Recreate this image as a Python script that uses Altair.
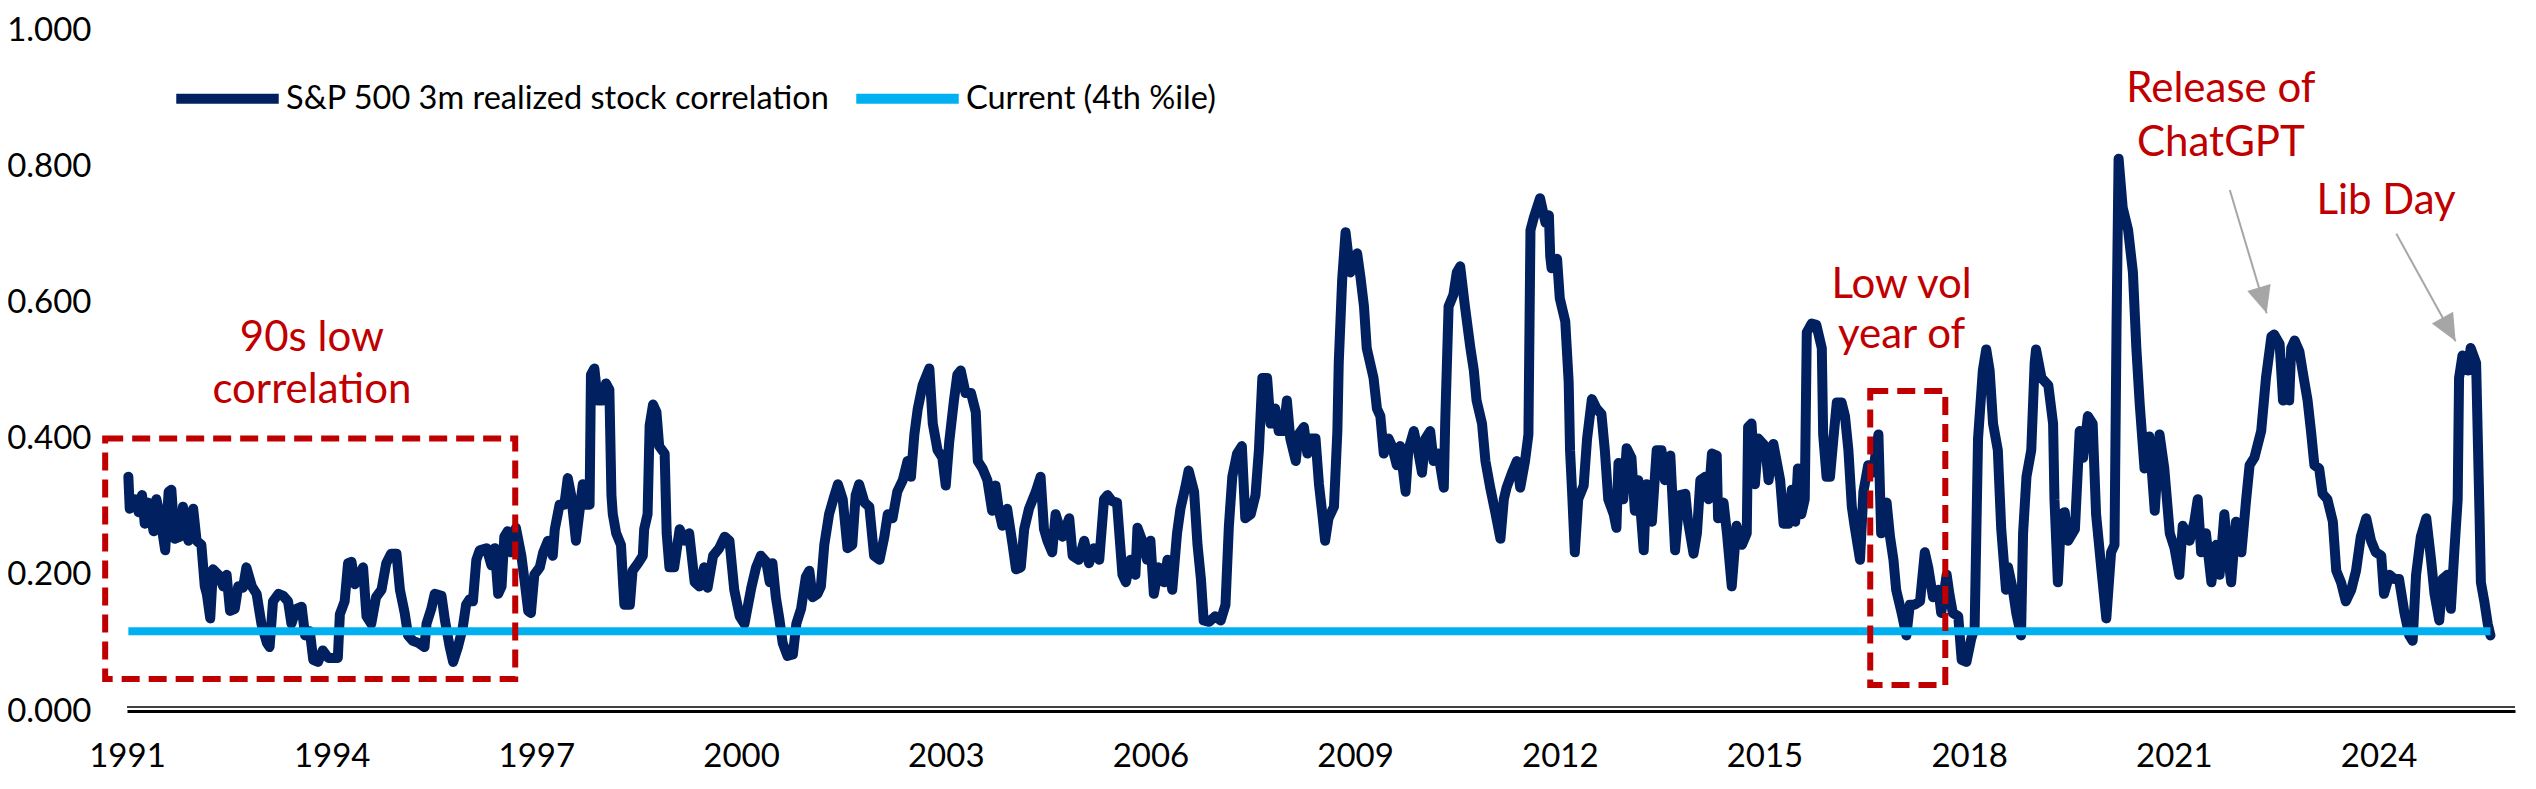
import altair as alt
import pandas as pd

# ---------------- data ----------------
corr_years = [
    1991.02, 1991.04, 1991.12, 1991.17, 1991.22, 1991.26, 1991.31, 1991.39, 1991.43, 1991.48,
    1991.56, 1991.61, 1991.65, 1991.70, 1991.78, 1991.82, 1991.90, 1991.97, 1992.02, 1992.09,
    1992.14, 1992.17, 1992.22, 1992.26, 1992.34, 1992.41, 1992.46, 1992.51, 1992.58, 1992.63,
    1992.70, 1992.75, 1992.83, 1992.90, 1992.97, 1993.05, 1993.09, 1993.14, 1993.22, 1993.29,
    1993.36, 1993.41, 1993.48, 1993.56, 1993.61, 1993.68, 1993.73, 1993.80, 1993.87, 1993.95,
    1994.02, 1994.09, 1994.12, 1994.19, 1994.24, 1994.29, 1994.34, 1994.41, 1994.46, 1994.51,
    1994.58, 1994.65, 1994.73, 1994.80, 1994.87, 1994.95, 1995.00, 1995.07, 1995.12, 1995.19,
    1995.27, 1995.36, 1995.39, 1995.46, 1995.51, 1995.61, 1995.66, 1995.73, 1995.78, 1995.85,
    1995.92, 1995.97, 1996.02, 1996.07, 1996.12, 1996.17, 1996.27, 1996.34, 1996.39, 1996.44,
    1996.49, 1996.53, 1996.58, 1996.63, 1996.70, 1996.78, 1996.83, 1996.88, 1996.92, 1996.97,
    1997.05, 1997.10, 1997.17, 1997.24, 1997.27, 1997.34, 1997.41, 1997.46, 1997.51, 1997.58,
    1997.68, 1997.73, 1997.78, 1997.80, 1997.85, 1997.90, 1997.97, 1998.02, 1998.07, 1998.10,
    1998.12, 1998.17, 1998.24, 1998.27, 1998.29, 1998.37, 1998.41, 1998.49, 1998.56, 1998.58,
    1998.63, 1998.66, 1998.71, 1998.76, 1998.80, 1998.88, 1998.91, 1998.95, 1999.02, 1999.10,
    1999.17, 1999.24, 1999.32, 1999.39, 1999.46, 1999.51, 1999.59, 1999.68, 1999.76, 1999.83,
    1999.90, 1999.98, 2000.05, 2000.15, 2000.22, 2000.29, 2000.37, 2000.42, 2000.46, 2000.51,
    2000.56, 2000.61, 2000.68, 2000.76, 2000.81, 2000.88, 2000.95, 2001.00, 2001.05, 2001.12,
    2001.17, 2001.22, 2001.29, 2001.37, 2001.42, 2001.49, 2001.56, 2001.63, 2001.68, 2001.73,
    2001.81, 2001.88, 2001.95, 2002.03, 2002.10, 2002.15, 2002.22, 2002.29, 2002.37, 2002.44,
    2002.49, 2002.54, 2002.59, 2002.66, 2002.76, 2002.81, 2002.88, 2002.95, 2003.00, 2003.05,
    2003.12, 2003.17, 2003.22, 2003.29, 2003.37, 2003.44, 2003.47, 2003.54, 2003.61, 2003.68,
    2003.73, 2003.78, 2003.83, 2003.90, 2003.98, 2004.03, 2004.10, 2004.15, 2004.22, 2004.32,
    2004.39, 2004.44, 2004.49, 2004.56, 2004.61, 2004.71, 2004.81, 2004.86, 2004.95, 2005.03,
    2005.10, 2005.17, 2005.25, 2005.32, 2005.37, 2005.44, 2005.51, 2005.59, 2005.64, 2005.71,
    2005.78, 2005.81, 2005.88, 2005.95, 2006.00, 2006.05, 2006.12, 2006.20, 2006.25, 2006.32,
    2006.39, 2006.44, 2006.51, 2006.56, 2006.64, 2006.69, 2006.74, 2006.78, 2006.86, 2006.95,
    2007.03, 2007.10, 2007.15, 2007.20, 2007.27, 2007.34, 2007.39, 2007.47, 2007.54, 2007.59,
    2007.64, 2007.71, 2007.76, 2007.83, 2007.88, 2007.95, 2008.00, 2008.05, 2008.13, 2008.17,
    2008.25, 2008.30, 2008.35, 2008.42, 2008.47, 2008.52, 2008.56, 2008.61, 2008.69, 2008.74,
    2008.76, 2008.81, 2008.86, 2008.93, 2008.98, 2009.03, 2009.08, 2009.13, 2009.17, 2009.22,
    2009.27, 2009.32, 2009.37, 2009.42, 2009.49, 2009.54, 2009.61, 2009.66, 2009.74, 2009.78,
    2009.86, 2009.93, 2009.98, 2010.03, 2010.10, 2010.15, 2010.22, 2010.30, 2010.32, 2010.37,
    2010.44, 2010.49, 2010.54, 2010.61, 2010.69, 2010.74, 2010.78, 2010.86, 2010.91, 2010.98,
    2011.05, 2011.13, 2011.18, 2011.22, 2011.30, 2011.37, 2011.42, 2011.49, 2011.54, 2011.57,
    2011.62, 2011.71, 2011.79, 2011.84, 2011.86, 2011.88, 2011.96, 2012.00, 2012.08, 2012.13,
    2012.15, 2012.18, 2012.22, 2012.27, 2012.35, 2012.40, 2012.47, 2012.54, 2012.61, 2012.66,
    2012.71, 2012.79, 2012.83, 2012.86, 2012.93, 2012.98, 2013.05, 2013.10, 2013.15, 2013.23,
    2013.27, 2013.35, 2013.42, 2013.49, 2013.54, 2013.62, 2013.69, 2013.76, 2013.84, 2013.88,
    2013.96, 2014.01, 2014.06, 2014.13, 2014.18, 2014.23, 2014.30, 2014.32, 2014.40, 2014.45,
    2014.52, 2014.59, 2014.67, 2014.74, 2014.76, 2014.81, 2014.86, 2014.91, 2015.01, 2015.06,
    2015.13, 2015.23, 2015.28, 2015.35, 2015.40, 2015.45, 2015.49, 2015.54, 2015.59, 2015.62,
    2015.69, 2015.76, 2015.84, 2015.86, 2015.91, 2015.96, 2016.01, 2016.06, 2016.13, 2016.18,
    2016.23, 2016.28, 2016.32, 2016.40, 2016.45, 2016.52, 2016.59, 2016.67, 2016.71, 2016.79,
    2016.84, 2016.89, 2016.93, 2017.01, 2017.08, 2017.13, 2017.20, 2017.28, 2017.35, 2017.40,
    2017.47, 2017.55, 2017.59, 2017.67, 2017.71, 2017.76, 2017.84, 2017.89, 2017.96, 2018.03,
    2018.08, 2018.13, 2018.20, 2018.25, 2018.30, 2018.35, 2018.42, 2018.47, 2018.54, 2018.57,
    2018.64, 2018.69, 2018.76, 2018.79, 2018.84, 2018.91, 2018.96, 2018.98, 2019.06, 2019.16,
    2019.23, 2019.25, 2019.30, 2019.35, 2019.40, 2019.45, 2019.55, 2019.62, 2019.67, 2019.74,
    2019.81, 2019.86, 2019.94, 2020.01, 2020.08, 2020.13, 2020.16, 2020.19, 2020.25, 2020.33,
    2020.40, 2020.45, 2020.50, 2020.57, 2020.64, 2020.72, 2020.79, 2020.86, 2020.94, 2021.01,
    2021.08, 2021.13, 2021.23, 2021.30, 2021.35, 2021.40, 2021.47, 2021.55, 2021.62, 2021.67,
    2021.74, 2021.79, 2021.84, 2021.91, 2021.99, 2022.06, 2022.11, 2022.18, 2022.28, 2022.35,
    2022.43, 2022.47, 2022.55, 2022.60, 2022.65, 2022.69, 2022.72, 2022.77, 2022.84, 2022.89,
    2022.96, 2023.01, 2023.06, 2023.13, 2023.18, 2023.25, 2023.33, 2023.38, 2023.45, 2023.52,
    2023.60, 2023.67, 2023.74, 2023.82, 2023.89, 2023.96, 2024.04, 2024.08, 2024.16, 2024.23,
    2024.30, 2024.38, 2024.45, 2024.50, 2024.55, 2024.62, 2024.70, 2024.77, 2024.82, 2024.89,
    2024.94, 2025.01, 2025.06, 2025.11, 2025.16, 2025.18, 2025.23, 2025.31, 2025.35, 2025.43,
    2025.48, 2025.50, 2025.55, 2025.60, 2025.64,
]
corr_values = [
    0.344, 0.297, 0.311, 0.292, 0.317, 0.275, 0.306, 0.264, 0.311, 0.289,
    0.236, 0.322, 0.325, 0.253, 0.256, 0.300, 0.250, 0.297, 0.250, 0.244,
    0.183, 0.172, 0.136, 0.208, 0.200, 0.183, 0.200, 0.147, 0.150, 0.183,
    0.181, 0.211, 0.183, 0.172, 0.128, 0.100, 0.094, 0.161, 0.172, 0.169,
    0.161, 0.128, 0.150, 0.153, 0.111, 0.117, 0.075, 0.072, 0.089, 0.078,
    0.078, 0.078, 0.142, 0.161, 0.217, 0.219, 0.186, 0.200, 0.211, 0.139,
    0.128, 0.167, 0.178, 0.217, 0.231, 0.231, 0.178, 0.144, 0.111, 0.103,
    0.100, 0.094, 0.128, 0.150, 0.172, 0.169, 0.133, 0.094, 0.072, 0.094,
    0.122, 0.156, 0.164, 0.161, 0.222, 0.236, 0.239, 0.214, 0.239, 0.172,
    0.183, 0.256, 0.264, 0.233, 0.269, 0.228, 0.189, 0.147, 0.144, 0.200,
    0.211, 0.233, 0.250, 0.228, 0.267, 0.303, 0.303, 0.342, 0.317, 0.250,
    0.333, 0.303, 0.303, 0.494, 0.503, 0.456, 0.456, 0.481, 0.472, 0.317,
    0.289, 0.261, 0.244, 0.189, 0.156, 0.156, 0.206, 0.217, 0.228, 0.267,
    0.289, 0.419, 0.450, 0.439, 0.389, 0.378, 0.261, 0.211, 0.211, 0.267,
    0.250, 0.261, 0.189, 0.183, 0.211, 0.181, 0.228, 0.239, 0.256, 0.250,
    0.178, 0.139, 0.128, 0.181, 0.211, 0.228, 0.219, 0.189, 0.217, 0.167,
    0.136, 0.100, 0.081, 0.083, 0.128, 0.150, 0.197, 0.206, 0.167, 0.172,
    0.183, 0.244, 0.289, 0.317, 0.333, 0.311, 0.239, 0.244, 0.317, 0.333,
    0.306, 0.300, 0.228, 0.222, 0.256, 0.289, 0.283, 0.322, 0.339, 0.367,
    0.344, 0.406, 0.444, 0.478, 0.503, 0.422, 0.383, 0.372, 0.331, 0.394,
    0.456, 0.494, 0.500, 0.467, 0.467, 0.439, 0.367, 0.356, 0.339, 0.294,
    0.331, 0.294, 0.272, 0.297, 0.244, 0.208, 0.211, 0.267, 0.297, 0.322,
    0.344, 0.267, 0.250, 0.233, 0.289, 0.256, 0.283, 0.228, 0.222, 0.250,
    0.217, 0.239, 0.222, 0.311, 0.317, 0.308, 0.306, 0.200, 0.189, 0.222,
    0.200, 0.269, 0.250, 0.222, 0.250, 0.172, 0.211, 0.189, 0.222, 0.178,
    0.261, 0.297, 0.328, 0.353, 0.322, 0.244, 0.194, 0.133, 0.131, 0.139,
    0.133, 0.156, 0.272, 0.344, 0.378, 0.389, 0.283, 0.289, 0.317, 0.383,
    0.489, 0.489, 0.422, 0.444, 0.411, 0.411, 0.456, 0.400, 0.367, 0.406,
    0.417, 0.378, 0.400, 0.400, 0.333, 0.289, 0.250, 0.283, 0.300, 0.411,
    0.511, 0.633, 0.703, 0.644, 0.661, 0.672, 0.636, 0.594, 0.533, 0.511,
    0.489, 0.444, 0.433, 0.378, 0.400, 0.389, 0.361, 0.389, 0.322, 0.383,
    0.411, 0.378, 0.350, 0.400, 0.411, 0.367, 0.378, 0.328, 0.422, 0.594,
    0.611, 0.644, 0.653, 0.594, 0.533, 0.500, 0.456, 0.422, 0.367, 0.328,
    0.294, 0.253, 0.311, 0.328, 0.350, 0.367, 0.328, 0.367, 0.406, 0.706,
    0.725, 0.753, 0.717, 0.728, 0.667, 0.650, 0.664, 0.606, 0.572, 0.483,
    0.383, 0.322, 0.233, 0.311, 0.331, 0.400, 0.458, 0.444, 0.436, 0.383,
    0.311, 0.289, 0.269, 0.364, 0.311, 0.386, 0.372, 0.294, 0.339, 0.236,
    0.333, 0.278, 0.383, 0.383, 0.339, 0.375, 0.236, 0.317, 0.319, 0.278,
    0.231, 0.261, 0.339, 0.344, 0.311, 0.378, 0.375, 0.283, 0.306, 0.261,
    0.183, 0.272, 0.244, 0.261, 0.417, 0.422, 0.333, 0.400, 0.389, 0.339,
    0.392, 0.339, 0.275, 0.275, 0.325, 0.278, 0.356, 0.289, 0.311, 0.556,
    0.569, 0.567, 0.533, 0.406, 0.344, 0.344, 0.400, 0.453, 0.453, 0.433,
    0.383, 0.300, 0.272, 0.222, 0.322, 0.361, 0.350, 0.406, 0.261, 0.306,
    0.256, 0.222, 0.178, 0.144, 0.111, 0.156, 0.156, 0.161, 0.233, 0.211,
    0.167, 0.178, 0.144, 0.200, 0.172, 0.144, 0.139, 0.075, 0.072, 0.106,
    0.122, 0.400, 0.500, 0.531, 0.500, 0.422, 0.383, 0.267, 0.178, 0.211,
    0.178, 0.144, 0.111, 0.261, 0.344, 0.383, 0.511, 0.531, 0.489, 0.478,
    0.422, 0.311, 0.189, 0.289, 0.292, 0.250, 0.267, 0.411, 0.372, 0.433,
    0.422, 0.289, 0.206, 0.136, 0.233, 0.244, 0.567, 0.811, 0.739, 0.706,
    0.644, 0.533, 0.450, 0.356, 0.403, 0.294, 0.406, 0.356, 0.261, 0.239,
    0.200, 0.272, 0.250, 0.278, 0.311, 0.233, 0.261, 0.189, 0.244, 0.200,
    0.289, 0.233, 0.189, 0.278, 0.233, 0.311, 0.361, 0.372, 0.411, 0.489,
    0.550, 0.553, 0.539, 0.456, 0.511, 0.456, 0.533, 0.544, 0.528, 0.497,
    0.456, 0.411, 0.361, 0.356, 0.319, 0.311, 0.278, 0.206, 0.189, 0.161,
    0.178, 0.206, 0.256, 0.283, 0.250, 0.233, 0.228, 0.172, 0.200, 0.194,
    0.194, 0.144, 0.111, 0.103, 0.200, 0.256, 0.283, 0.222, 0.172, 0.133,
    0.194, 0.200, 0.150, 0.233, 0.311, 0.489, 0.522, 0.500, 0.533, 0.511,
    0.289, 0.189, 0.161, 0.128, 0.111,
]
current_years = [1991.02, 2025.64]
current_values = [0.117, 0.117]
series_names = ["S&P 500 3m realized stock correlation", "Current (4th %ile)"]
x_tick_years = [1991, 1994, 1997, 2000, 2003, 2006, 2009, 2012, 2015, 2018, 2021, 2024]
y_ticks = [0.0, 0.2, 0.4, 0.6, 0.8, 1.0]

df_corr = pd.DataFrame({
    "year": corr_years,
    "value": corr_values,
    "series": series_names[0],
    "idx": list(range(len(corr_years))),
})
df_cur = pd.DataFrame({
    "year": current_years,
    "value": current_values,
    "series": series_names[1],
    "idx": [0, 1],
})

# ---------------- styling ----------------
FONT = "Lato"
NAVY = "#002060"
LIGHT = "#00B0F0"
RED = "#C00000"
GREY = "#A6A6A6"
W, H = 2388, 681

x_scale = alt.Scale(domain=[1991, 2026], nice=False, zero=False)
y_scale = alt.Scale(domain=[0, 1], nice=False, zero=False)
color_scale = alt.Scale(domain=series_names, range=[NAVY, LIGHT])

x_enc = alt.X(
    "year:Q", scale=x_scale, title=None,
    axis=alt.Axis(values=x_tick_years, format="d", title=None, ticks=False, tickSize=0,
                  grid=False, domainColor="black", domainWidth=3, labelFont=FONT,
                  labelFontSize=33, labelColor="black", labelPadding=29,
                  labelFlush=False, labelOverlap=False),
)
y_enc = alt.Y(
    "value:Q", scale=y_scale, title=None,
    axis=alt.Axis(values=y_ticks, format=".3f", title=None, ticks=False, tickSize=0,
                  grid=False, domain=False, labelFont=FONT, labelFontSize=33,
                  labelColor="black", labelPadding=36),
)
legend = alt.Legend(
    title=None, orient="none", legendX=44, legendY=12, direction="horizontal",
    symbolType="stroke", symbolSize=10500, symbolStrokeWidth=10,
    labelFont=FONT, labelFontSize=32.5, labelColor="black", labelLimit=2000,
    columnPadding=6, labelOffset=2,
)
color_enc = alt.Color("series:N", scale=color_scale, legend=legend)

corr_line = alt.Chart(df_corr).mark_line(
    strokeWidth=10, strokeJoin="round", strokeCap="round"
).encode(x=x_enc, y=y_enc, color=color_enc, order="idx:Q")

cur_line = alt.Chart(df_cur).mark_line(strokeWidth=8).encode(
    x=x_enc, y=y_enc, color=color_enc, order="idx:Q"
)

# double (thin + thick) baseline: thick is the axis domain, thin drawn just above
thin_axis = alt.Chart(pd.DataFrame({"v": [0]})).mark_rule(
    color="black", strokeWidth=1.5, yOffset=-4
).encode(x=alt.datum(1991), x2=alt.datum(2026), y=alt.datum(0))

# annotation boxes
box1 = alt.Chart(pd.DataFrame({"a": [0]})).mark_rect(
    fillOpacity=0, stroke=RED, strokeWidth=6, strokeDash=[18, 9]
).encode(x=alt.datum(1990.68), x2=alt.datum(1996.69), y=alt.datum(0.047), y2=alt.datum(0.40))
box2 = alt.Chart(pd.DataFrame({"a": [0]})).mark_rect(
    fillOpacity=0, stroke=RED, strokeWidth=6, strokeDash=[18, 9]
).encode(x=alt.datum(2016.55), x2=alt.datum(2017.65), y=alt.datum(0.038), y2=alt.datum(0.47))


def label(txt, xv, yv):
    return alt.Chart(pd.DataFrame({"a": [0]})).mark_text(
        font=FONT, fontSize=42, color=RED, align="center", baseline="middle"
    ).encode(x=alt.datum(xv), y=alt.datum(yv), text=alt.value(txt))


texts = [
    label("90s low", 1993.71, 0.547),
    label("correlation", 1993.71, 0.472),
    label("Low vol", 2017.01, 0.625),
    label("year of", 2017.01, 0.552),
    label("Release of", 2021.69, 0.913),
    label("ChatGPT", 2021.69, 0.834),
    label("Lib Day", 2024.11, 0.749),
]

ARROW = "M0,0L-0.9,2L0.9,2Z"


def arrow(x0, y0, x1, y1, ang):
    shaft = alt.Chart(pd.DataFrame({"a": [0]})).mark_rule(color=GREY, strokeWidth=2).encode(
        x=alt.datum(x0), y=alt.datum(y0), x2=alt.datum(x1), y2=alt.datum(y1)
    )
    head = alt.Chart(pd.DataFrame({"a": [0]})).mark_point(
        shape=ARROW, filled=True, size=729, angle=ang, color=GREY, opacity=1, strokeWidth=0
    ).encode(x=alt.datum(x1), y=alt.datum(y1))
    return [shaft, head]


arrows = arrow(2021.82, 0.765, 2022.36, 0.584, 163.4) + arrow(2024.26, 0.701, 2025.13, 0.543, 150.9)

chart = alt.layer(
    corr_line, cur_line, thin_axis, box1, box2, *texts, *arrows
).properties(
    width=W, height=H,
    autosize=alt.AutoSizeParams(type="none"),
    padding={"left": 119, "top": 22, "right": 13, "bottom": 62},
    background="white",
).configure_view(stroke=None)

chart.save("out.html", embed_options={"renderer": "svg", "actions": False})
